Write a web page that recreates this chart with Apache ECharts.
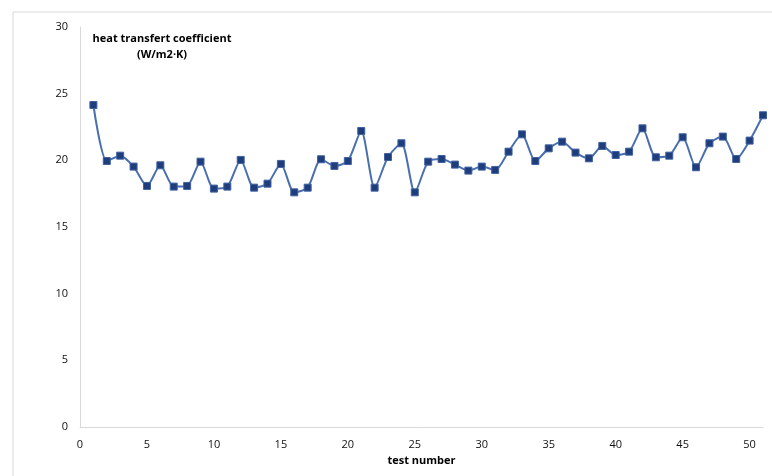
<!DOCTYPE html>
<html>
<head>
<meta charset="utf-8">
<script src="https://cdn.jsdelivr.net/npm/echarts@6/dist/echarts.min.js"></script>
<style>html,body{margin:0;padding:0;background:#fff}#c{width:772px;height:476px}</style>
</head>
<body>
<div id="c"></div>
<script>
const testNumbers = [1,2,3,4,5,6,7,8,9,10,11,12,13,14,15,16,17,18,19,20,21,22,23,24,25,26,27,28,29,30,31,32,33,34,35,36,37,38,39,40,41,42,43,44,45,46,47,48,49,50,51];
const htc = [24.15,19.95,20.35,19.53,18.08,19.63,18.03,18.08,19.9,17.88,18.03,20.03,17.95,18.25,19.73,17.6,17.95,20.08,19.58,19.95,22.2,17.95,20.25,21.28,17.6,19.9,20.1,19.68,19.23,19.53,19.28,20.65,21.95,19.95,20.9,21.4,20.58,20.15,21.08,20.4,20.65,22.4,20.23,20.35,21.73,19.48,21.28,21.78,20.1,21.48,23.38];
const yTicks = [0,5,10,15,20,25,30];
const xTicks = [0,5,10,15,20,25,30,35,40,45,50];
const titleLines = ['heat transfert coefficient', '(W/m2·K)'];
const xName = 'test number';

const chart = echarts.init(document.getElementById('c'), null, {renderer:'canvas'});
const font = 'Open Sans, Liberation Sans, sans-serif';
chart.setOption({
  animation:false,
  backgroundColor:'#fff',
  grid:{left:80, right:9, top:27, bottom:49, containLabel:false},
  graphic:[
    {type:'rect', shape:{x:13, y:12, width:800, height:500}, style:{fill:'none', stroke:'#d9d9d9', lineWidth:1}, silent:true},
    {type:'text', x:162, y:31, style:{text:titleLines.join('\n'), textAlign:'center', font:'bold 11px ' + font, fill:'#000', lineHeight:16}}
  ],
  xAxis:{
    type:'value', min:0, max:51, interval:5,
    name:xName, nameLocation:'middle', nameGap:28,
    nameTextStyle:{fontWeight:'bold', fontSize:11, color:'#000', fontFamily:font},
    axisLine:{show:true, lineStyle:{color:'#d9d9d9', width:1}},
    axisTick:{show:false},
    splitLine:{show:false},
    axisLabel:{fontSize:11, color:'#111', fontFamily:font, margin:12,
      formatter:function(v){return xTicks.indexOf(v)>=0 ? String(v) : '';}}
  },
  yAxis:{
    type:'value', min:0, max:30, interval:5,
    axisLine:{show:true, lineStyle:{color:'#d9d9d9', width:1}},
    axisTick:{show:false},
    splitLine:{show:false},
    axisLabel:{fontSize:11, color:'#111', fontFamily:font, margin:12,
      formatter:function(v){return yTicks.indexOf(v)>=0 ? String(v) : '';}}
  },
  series:[{
    type:'line', smooth:0.25,
    data:testNumbers.map((x,i)=>[x, htc[i]]),
    symbol:'rect', symbolSize:7,
    lineStyle:{color:'#4a6fae', width:2},
    itemStyle:{color:'#1f3d7a', borderColor:'#3f62a3', borderWidth:1}
  }]
});
</script>
</body>
</html>
